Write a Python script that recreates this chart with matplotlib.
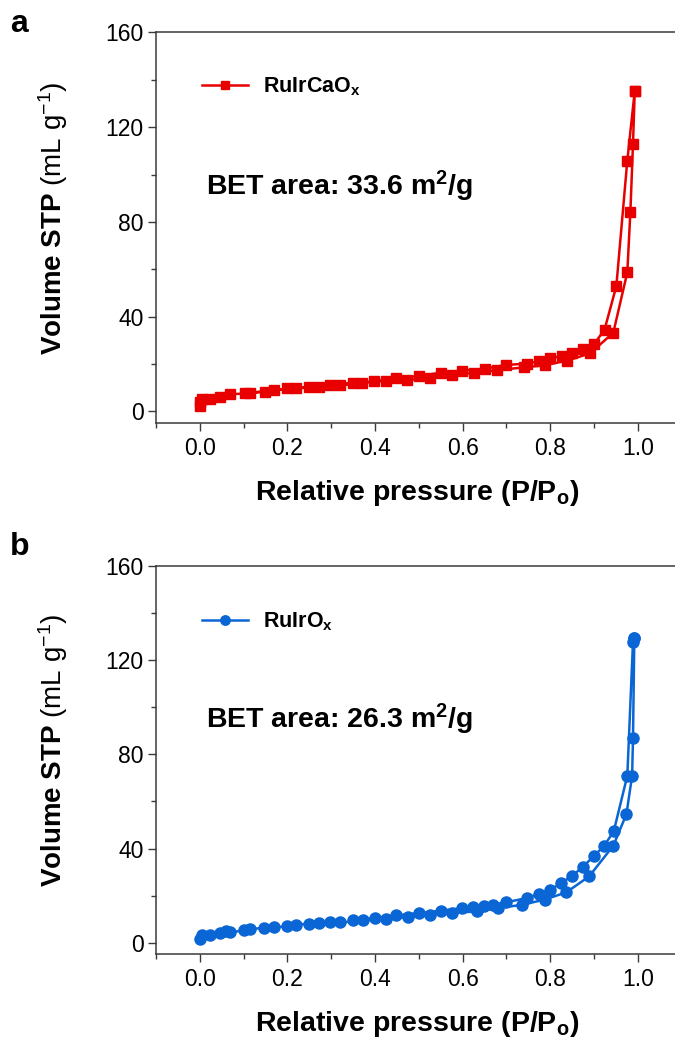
import numpy as np
import matplotlib
matplotlib.use("Agg")
import matplotlib.pyplot as plt
from matplotlib.ticker import MultipleLocator

plt.rcParams['font.family'] = ['Liberation Sans', 'DejaVu Sans']
plt.rcParams['mathtext.fontset'] = 'custom'
plt.rcParams['mathtext.rm'] = 'Liberation Sans'
plt.rcParams['mathtext.bf'] = 'Liberation Sans:bold'
plt.rcParams['mathtext.it'] = 'Liberation Sans:italic'

# RuIrCaOx isotherm (adsorption / desorption branches)
ca_ads_p = [0.0, 0.001, 0.004, 0.023, 0.047, 0.07, 0.104, 0.15, 0.20, 0.249, 0.298, 0.349,
            0.424, 0.474, 0.525, 0.576, 0.625, 0.679, 0.74, 0.788, 0.838, 0.891, 0.944,
            0.976, 0.983, 0.989, 0.993]
ca_ads_v = [2.2, 4.0, 5.1, 5.2, 6.2, 7.2, 7.6, 8.3, 9.7, 10.4, 11.2, 12.1,
            12.8, 13.2, 14.2, 15.3, 16.3, 17.4, 18.6, 19.5, 21.4, 24.5, 33.2,
            58.7, 84.1, 112.9, 135.3]
ca_des_p = [0.993, 0.976, 0.951, 0.924, 0.90, 0.875, 0.849, 0.827, 0.80, 0.774, 0.747,
            0.698, 0.65, 0.599, 0.55, 0.50, 0.449, 0.397, 0.37, 0.32, 0.272, 0.22,
            0.17, 0.115]
ca_des_v = [135.3, 105.9, 52.9, 34.5, 28.4, 26.2, 24.5, 23.4, 22.4, 21.2, 20.2,
            19.6, 18.0, 17.2, 16.3, 15.0, 13.9, 12.8, 11.8, 11.0, 10.4, 9.7,
            9.0, 7.9]

# RuIrOx isotherm
ir_ads_p = [0.0, 0.005, 0.023, 0.047, 0.06, 0.07, 0.10, 0.115, 0.146, 0.169, 0.198, 0.219,
            0.249, 0.272, 0.298, 0.321, 0.424, 0.475, 0.526, 0.576, 0.632, 0.681, 0.736,
            0.787, 0.837, 0.889, 0.944, 0.974, 0.987, 0.989, 0.992]
ir_ads_v = [1.7, 3.4, 3.4, 4.1, 5.1, 4.4, 5.2, 5.9, 6.2, 6.5, 6.9, 7.6,
            8.1, 8.4, 8.8, 8.6, 10.2, 10.8, 11.8, 12.6, 13.3, 14.7, 16.1,
            18.3, 21.4, 28.2, 41.2, 54.6, 70.9, 86.9, 129.3]
ir_des_p = [0.992, 0.989, 0.976, 0.945, 0.922, 0.90, 0.874, 0.85, 0.825, 0.80, 0.774,
            0.747, 0.698, 0.67, 0.648, 0.624, 0.599, 0.55, 0.50, 0.449, 0.399, 0.373, 0.349]
ir_des_v = [129.3, 127.7, 70.9, 47.3, 40.9, 36.9, 32.1, 28.4, 25.3, 22.5, 20.7,
            19.0, 17.1, 16.1, 15.8, 15.0, 14.7, 13.6, 12.6, 11.6, 10.5, 9.8, 9.5]

red = '#e80000'
blue = '#0a66d4'
spine_c = '#3a3a3a'


def style_axis(ax):
    ax.set_xlim(-0.1, 1.1)
    ax.set_ylim(-5, 160)
    ax.xaxis.set_minor_locator(MultipleLocator(0.1))
    ax.yaxis.set_minor_locator(MultipleLocator(20))
    ax.set_xticks([0.0, 0.2, 0.4, 0.6, 0.8, 1.0])
    ax.set_xticklabels(['0.0', '0.2', '0.4', '0.6', '0.8', '1.0'])
    ax.set_yticks([0, 40, 80, 120, 160])
    ax.tick_params(which='major', direction='out', length=6, width=1.0,
                   color=spine_c, labelsize=16.5, pad=4, top=False, right=False)
    ax.tick_params(which='minor', direction='out', length=3.5, width=1.0,
                   color=spine_c, top=False, right=False)
    ax.tick_params(axis='y', pad=3)
    ax.spines['right'].set_visible(False)
    for s in ['left', 'bottom', 'top']:
        ax.spines[s].set_color(spine_c)
        ax.spines[s].set_linewidth(1.1)
    ax.set_xlabel(r'Relative pressure (P/P$_\mathbf{o}$)', fontsize=20.5, fontweight='bold')
    ax.xaxis.set_label_coords(0.496, -0.178)
    ax.xaxis.label.set_va('center')
    ax.set_ylabel(r'$\mathbf{Volume\ STP}$ (mL g$^{-1}$)', fontsize=20)
    ax.yaxis.set_label_coords(-0.195, 0.525)
    ax.yaxis.label.set_va('center')


fig = plt.figure(figsize=(6.75, 10.5), dpi=100)
ax1 = fig.add_axes([0.2311, 0.5969, 0.7787, 0.3722])
ax2 = fig.add_axes([0.2311, 0.0910, 0.7787, 0.3698])

ax1.plot(ca_ads_p + ca_des_p, ca_ads_v + ca_des_v, color=red, lw=1.8, marker='s',
         ms=7.5, mec=red, label=r'RuIrCaO$_\mathbf{x}$')
ax2.plot(ir_ads_p + ir_des_p, ir_ads_v + ir_des_v, color=blue, lw=1.8, marker='o',
         ms=8, mec=blue, label=r'RuIrO$_\mathbf{x}$')

for ax, leg_y, bet in [(ax1, 0.861, '33.6'), (ax2, 0.857, '26.3')]:
    style_axis(ax)
    ax.legend(loc='center left', bbox_to_anchor=(0.0875, leg_y), frameon=False,
              borderpad=0, borderaxespad=0, handlelength=2.15, handletextpad=0.7,
              markerscale=0.85, prop={'size': 15.5, 'weight': 'bold'})
    ax.text(0.014, 95, 'BET area: ' + bet + r' m$^\mathbf{2}$/g', fontsize=20.5,
            fontweight='bold', va='center', ha='left')

fig.text(0.015, 1 - 32 / 1050, 'a', fontsize=23, fontweight='bold', va='baseline')
fig.text(0.015, 1 - 555 / 1050, 'b', fontsize=23, fontweight='bold', va='baseline')

fig.savefig('out.png', dpi=100)
